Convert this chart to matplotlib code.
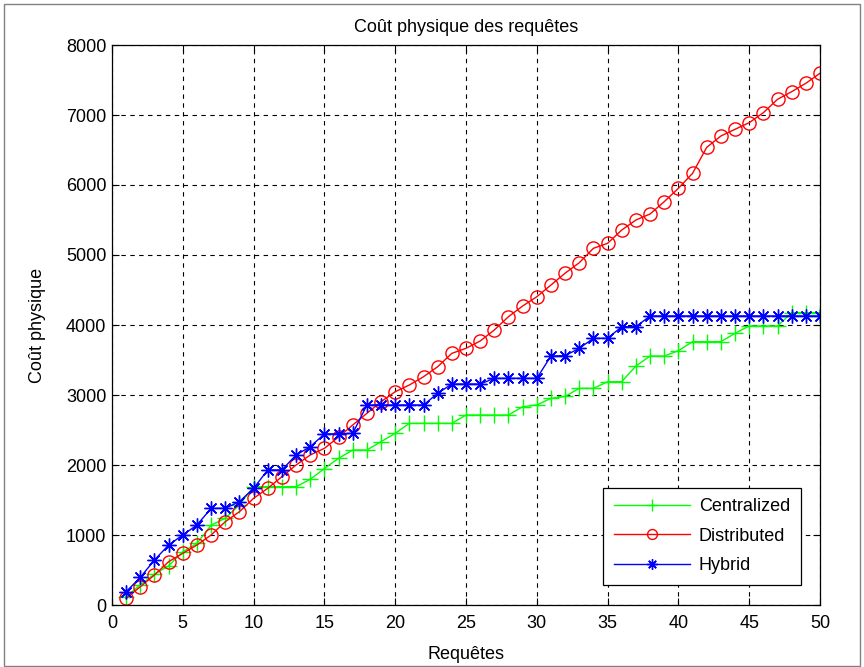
"""
Coût physique des requêtes: Centralized / Distributed / Hybrid.
"""

import numpy as np
import matplotlib.pyplot as plt
from matplotlib.patches import Rectangle

requetes = list(range(1, 51))

centralized = [
    120, 290, 440, 560, 760, 880, 1140, 1240, 1430, 1690,
    1690, 1690, 1690, 1795, 1950, 2095, 2214, 2214, 2333, 2452,
    2595, 2595, 2595, 2595, 2714, 2714, 2714, 2714, 2833, 2857,
    2952, 2980, 3095, 3095, 3190, 3190, 3414, 3557, 3557, 3633,
    3762, 3762, 3762, 3881, 3986, 3986, 3986, 4176, 4176, 4176,
]

distributed = [
    96, 261, 429, 619, 738, 857, 1000, 1190, 1333, 1524,
    1667, 1833, 2000, 2143, 2238, 2400, 2571, 2738, 2904, 3047,
    3143, 3261, 3404, 3595, 3667, 3771, 3929, 4119, 4271, 4404,
    4571, 4740, 4890, 5096, 5167, 5357, 5500, 5586, 5762, 5953,
    6167, 6538, 6700, 6796, 6890, 7033, 7224, 7333, 7453, 7596,
]

hybrid = [
    190, 395, 643, 857, 1000, 1143, 1381, 1381, 1476, 1667,
    1929, 1929, 2143, 2262, 2443, 2447, 2452, 2857, 2857, 2857,
    2857, 2857, 3024, 3157, 3157, 3157, 3238, 3238, 3238, 3238,
    3557, 3562, 3667, 3810, 3810, 3976, 3976, 4129, 4129, 4129,
    4129, 4129, 4129, 4129, 4129, 4129, 4129, 4129, 4129, 4129,
]

plt.rcParams["font.family"] = ["Liberation Sans Narrow", "Liberation Sans", "DejaVu Sans"]

fig = plt.figure(figsize=(8.64, 6.67), dpi=100)
fig.patch.set_facecolor("white")
ax = fig.add_axes([112 / 864, 62 / 667, 708 / 864, 560 / 667])

ax.plot(requetes, centralized, color="#00FF00", marker="+", ms=11, mew=1.0,
        lw=1.0, label="Centralized")
ax.plot(requetes, distributed, color="#FF0000", marker="o", ms=9.5, mew=1.0,
        mfc="none", lw=1.0, label="Distributed")
ax.plot(requetes, hybrid, color="#0000FF", marker=(8, 2, 0), ms=10, mew=1.0,
        lw=1.0, label="Hybrid")

ax.set_xlim(0, 50)
ax.set_ylim(0, 8000)
ax.set_xticks(np.arange(0, 51, 5))
ax.set_yticks(np.arange(0, 8001, 1000))
ax.tick_params(direction="in", top=True, right=True, length=5, width=0.8,
               labelsize=13, pad=4)
ax.tick_params(axis="x", pad=7.5)
ax.grid(True, color="black", linestyle=(0, (4, 4)), linewidth=0.8)
for s in ax.spines.values():
    s.set_linewidth(0.9)

ax.set_title("Coût physique des requêtes", fontsize=13, pad=9)
ax.set_xlabel("Requêtes", fontsize=13, labelpad=10)
ax.set_ylabel("Coût physique", fontsize=13, labelpad=14)

leg = ax.legend(loc="lower right", fontsize=13, fancybox=False, framealpha=1,
                edgecolor="black", handlelength=4.2, handletextpad=0.5,
                borderpad=0.6, labelspacing=0.68, markerscale=0.75,
                borderaxespad=0, bbox_to_anchor=(0.973, 0.036))
leg.get_frame().set_linewidth(0.9)

# outer frame of the figure window
fig.patches.append(Rectangle((4 / 864, 1 / 667), 856 / 864, 662 / 667,
                             transform=fig.transFigure, fill=False,
                             edgecolor="#808080", lw=1.0))

plt.savefig("out.png", dpi=100, facecolor="white")
